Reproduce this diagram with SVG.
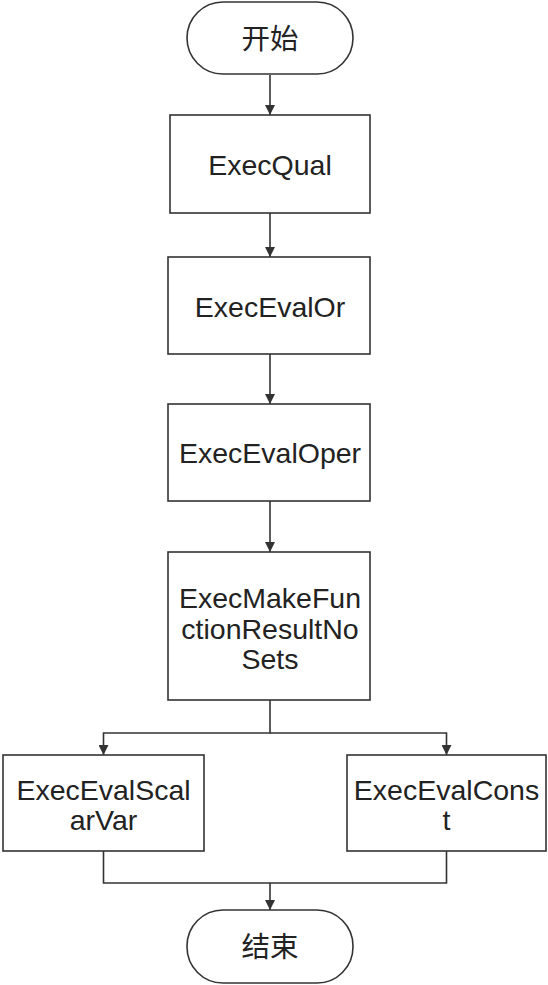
<svg xmlns="http://www.w3.org/2000/svg" width="548" height="985" viewBox="0 0 548 985">
<style>
.n{fill:#fff;stroke:#333;stroke-width:1.6}
.t{font-family:"Liberation Sans",Arial,"Noto Sans CJK SC",sans-serif;font-size:28.5px;fill:#222;text-anchor:middle}
.c{fill:none;stroke:#333;stroke-width:1.6}
</style>
<defs>
<marker id="a" viewBox="0 0 10 10" refX="10" refY="5" markerWidth="10" markerHeight="10" markerUnits="userSpaceOnUse" orient="auto">
<path d="M0,0 L10,5 L0,10 z" fill="#333"/>
</marker>
</defs>
<rect width="548" height="985" fill="#fff"/>
<g id="connectors">
<path class="c" d="M270,75 V115" marker-end="url(#a)"/>
<path class="c" d="M270,213 V257" marker-end="url(#a)"/>
<path class="c" d="M270,354 V404" marker-end="url(#a)"/>
<path class="c" d="M270,501 V552" marker-end="url(#a)"/>
<path class="c" d="M270,700 V733 H103.5 V755" marker-end="url(#a)"/>
<path class="c" d="M270,733 H446.5 V755" marker-end="url(#a)"/>
<path class="c" d="M103.5,851 V883 H446.5 V851"/>
<path class="c" d="M270,883 V910" marker-end="url(#a)"/>
</g>
<g id="start">
<rect class="n" x="187" y="2" width="166" height="72" rx="36"/>
<text class="t" x="270" y="49">开始</text>
</g>
<g id="execqual">
<rect class="n" x="170" y="115" width="200" height="98"/>
<text class="t" x="270" y="175">ExecQual</text>
</g>
<g id="execevalor">
<rect class="n" x="168" y="257" width="202" height="97"/>
<text class="t" x="270" y="317">ExecEvalOr</text>
</g>
<g id="execevaloper">
<rect class="n" x="168" y="404" width="202" height="97"/>
<text class="t" x="270" y="463">ExecEvalOper</text>
</g>
<g id="execmakefunction">
<rect class="n" x="168" y="552" width="202" height="148"/>
<text class="t" x="270" y="608">ExecMakeFun</text>
<text class="t" x="270" y="639">ctionResultNo</text>
<text class="t" x="270" y="669">Sets</text>
</g>
<g id="execevalscalarvar">
<rect class="n" x="3" y="755" width="201" height="96"/>
<text class="t" x="103.5" y="800">ExecEvalScal</text>
<text class="t" x="103.5" y="830">arVar</text>
</g>
<g id="execevalconst">
<rect class="n" x="347" y="755" width="199" height="96"/>
<text class="t" x="446.5" y="800">ExecEvalCons</text>
<text class="t" x="446.5" y="830">t</text>
</g>
<g id="end">
<rect class="n" x="187" y="910" width="166" height="73" rx="36"/>
<text class="t" x="270" y="957">结束</text>
</g>
</svg>
